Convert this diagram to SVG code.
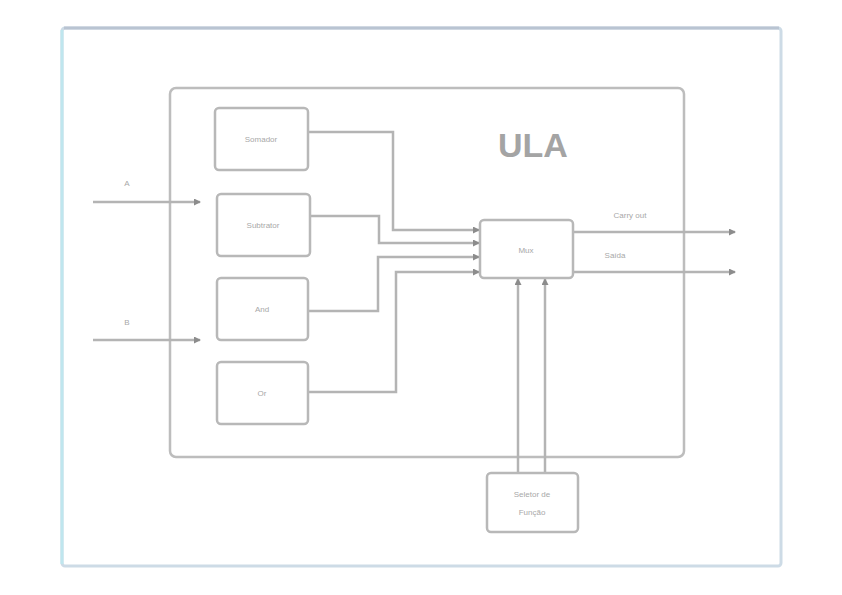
<svg xmlns="http://www.w3.org/2000/svg" width="842" height="595" viewBox="0 0 842 595">
<style>
.box{fill:#fff;stroke:#b8b8b8;stroke-width:2.5}
.ln{fill:none;stroke:#b4b4b4;stroke-width:2.5}
.lbl{font-family:"Liberation Sans",Arial,sans-serif;font-size:8px;fill:#a8a8a8;text-anchor:middle}
</style>
<defs>
<marker id="ah" markerWidth="7" markerHeight="7" refX="6" refY="3.5" orient="auto" markerUnits="userSpaceOnUse">
<path d="M0,0 L7,3.5 L0,7 z" fill="#8c8c8c"/>
</marker>
</defs>
<rect width="842" height="595" fill="#fff"/>
<g id="frame">
<rect x="62" y="28" width="719" height="538" rx="3" fill="none" stroke="#cddbe6" stroke-width="3"/>
<line x1="64" y1="28" x2="779" y2="28" stroke="#b9c4d2" stroke-width="3"/>
<line x1="62" y1="30" x2="62" y2="564" stroke="#bfe6ee" stroke-width="3"/>
</g>
<g id="ula">
<rect x="170" y="88" width="514" height="369" rx="6" fill="#fff" stroke="#bdbdbd" stroke-width="2.5"/>
<text x="533" y="157" font-family="Liberation Sans,Arial,sans-serif" font-size="34" font-weight="bold" fill="#a4a4a4" text-anchor="middle">ULA</text>
</g>
<g id="connectors">
<path class="ln" d="M93,202 H200" marker-end="url(#ah)"/>
<path class="ln" d="M93,340 H200" marker-end="url(#ah)"/>
<path class="ln" d="M308,132 H393 V230 H479" marker-end="url(#ah)"/>
<path class="ln" d="M310,216 H379 V243 H479" marker-end="url(#ah)"/>
<path class="ln" d="M308,311 H378 V257 H479" marker-end="url(#ah)"/>
<path class="ln" d="M308,392 H396 V272 H479" marker-end="url(#ah)"/>
<path class="ln" d="M574,232 H735" marker-end="url(#ah)"/>
<path class="ln" d="M574,272 H735" marker-end="url(#ah)"/>
<path class="ln" d="M518,472 V279" marker-end="url(#ah)"/>
<path class="ln" d="M545,472 V279" marker-end="url(#ah)"/>
<text x="127" y="186" class="lbl">A</text>
<text x="127" y="325" class="lbl">B</text>
<text x="630" y="218" class="lbl">Carry out</text>
<text x="615" y="258" class="lbl">Saída</text>
</g>
<g id="somador"><rect class="box" x="215" y="108" width="93" height="62" rx="4"/><text x="261" y="142" class="lbl">Somador</text></g>
<g id="subtrator"><rect class="box" x="217" y="194" width="93" height="62" rx="4"/><text x="263" y="228" class="lbl">Subtrator</text></g>
<g id="and"><rect class="box" x="217" y="278" width="91" height="62" rx="4"/><text x="262" y="312" class="lbl">And</text></g>
<g id="or"><rect class="box" x="217" y="362" width="91" height="62" rx="4"/><text x="262" y="396" class="lbl">Or</text></g>
<g id="mux"><rect class="box" x="480" y="220" width="93" height="58" rx="4"/><text x="526" y="253" class="lbl">Mux</text></g>
<g id="seletor"><rect class="box" x="487" y="473" width="91" height="59" rx="4"/><text x="532" y="497" class="lbl">Seletor de</text><text x="532" y="515" class="lbl">Função</text></g>
</svg>
